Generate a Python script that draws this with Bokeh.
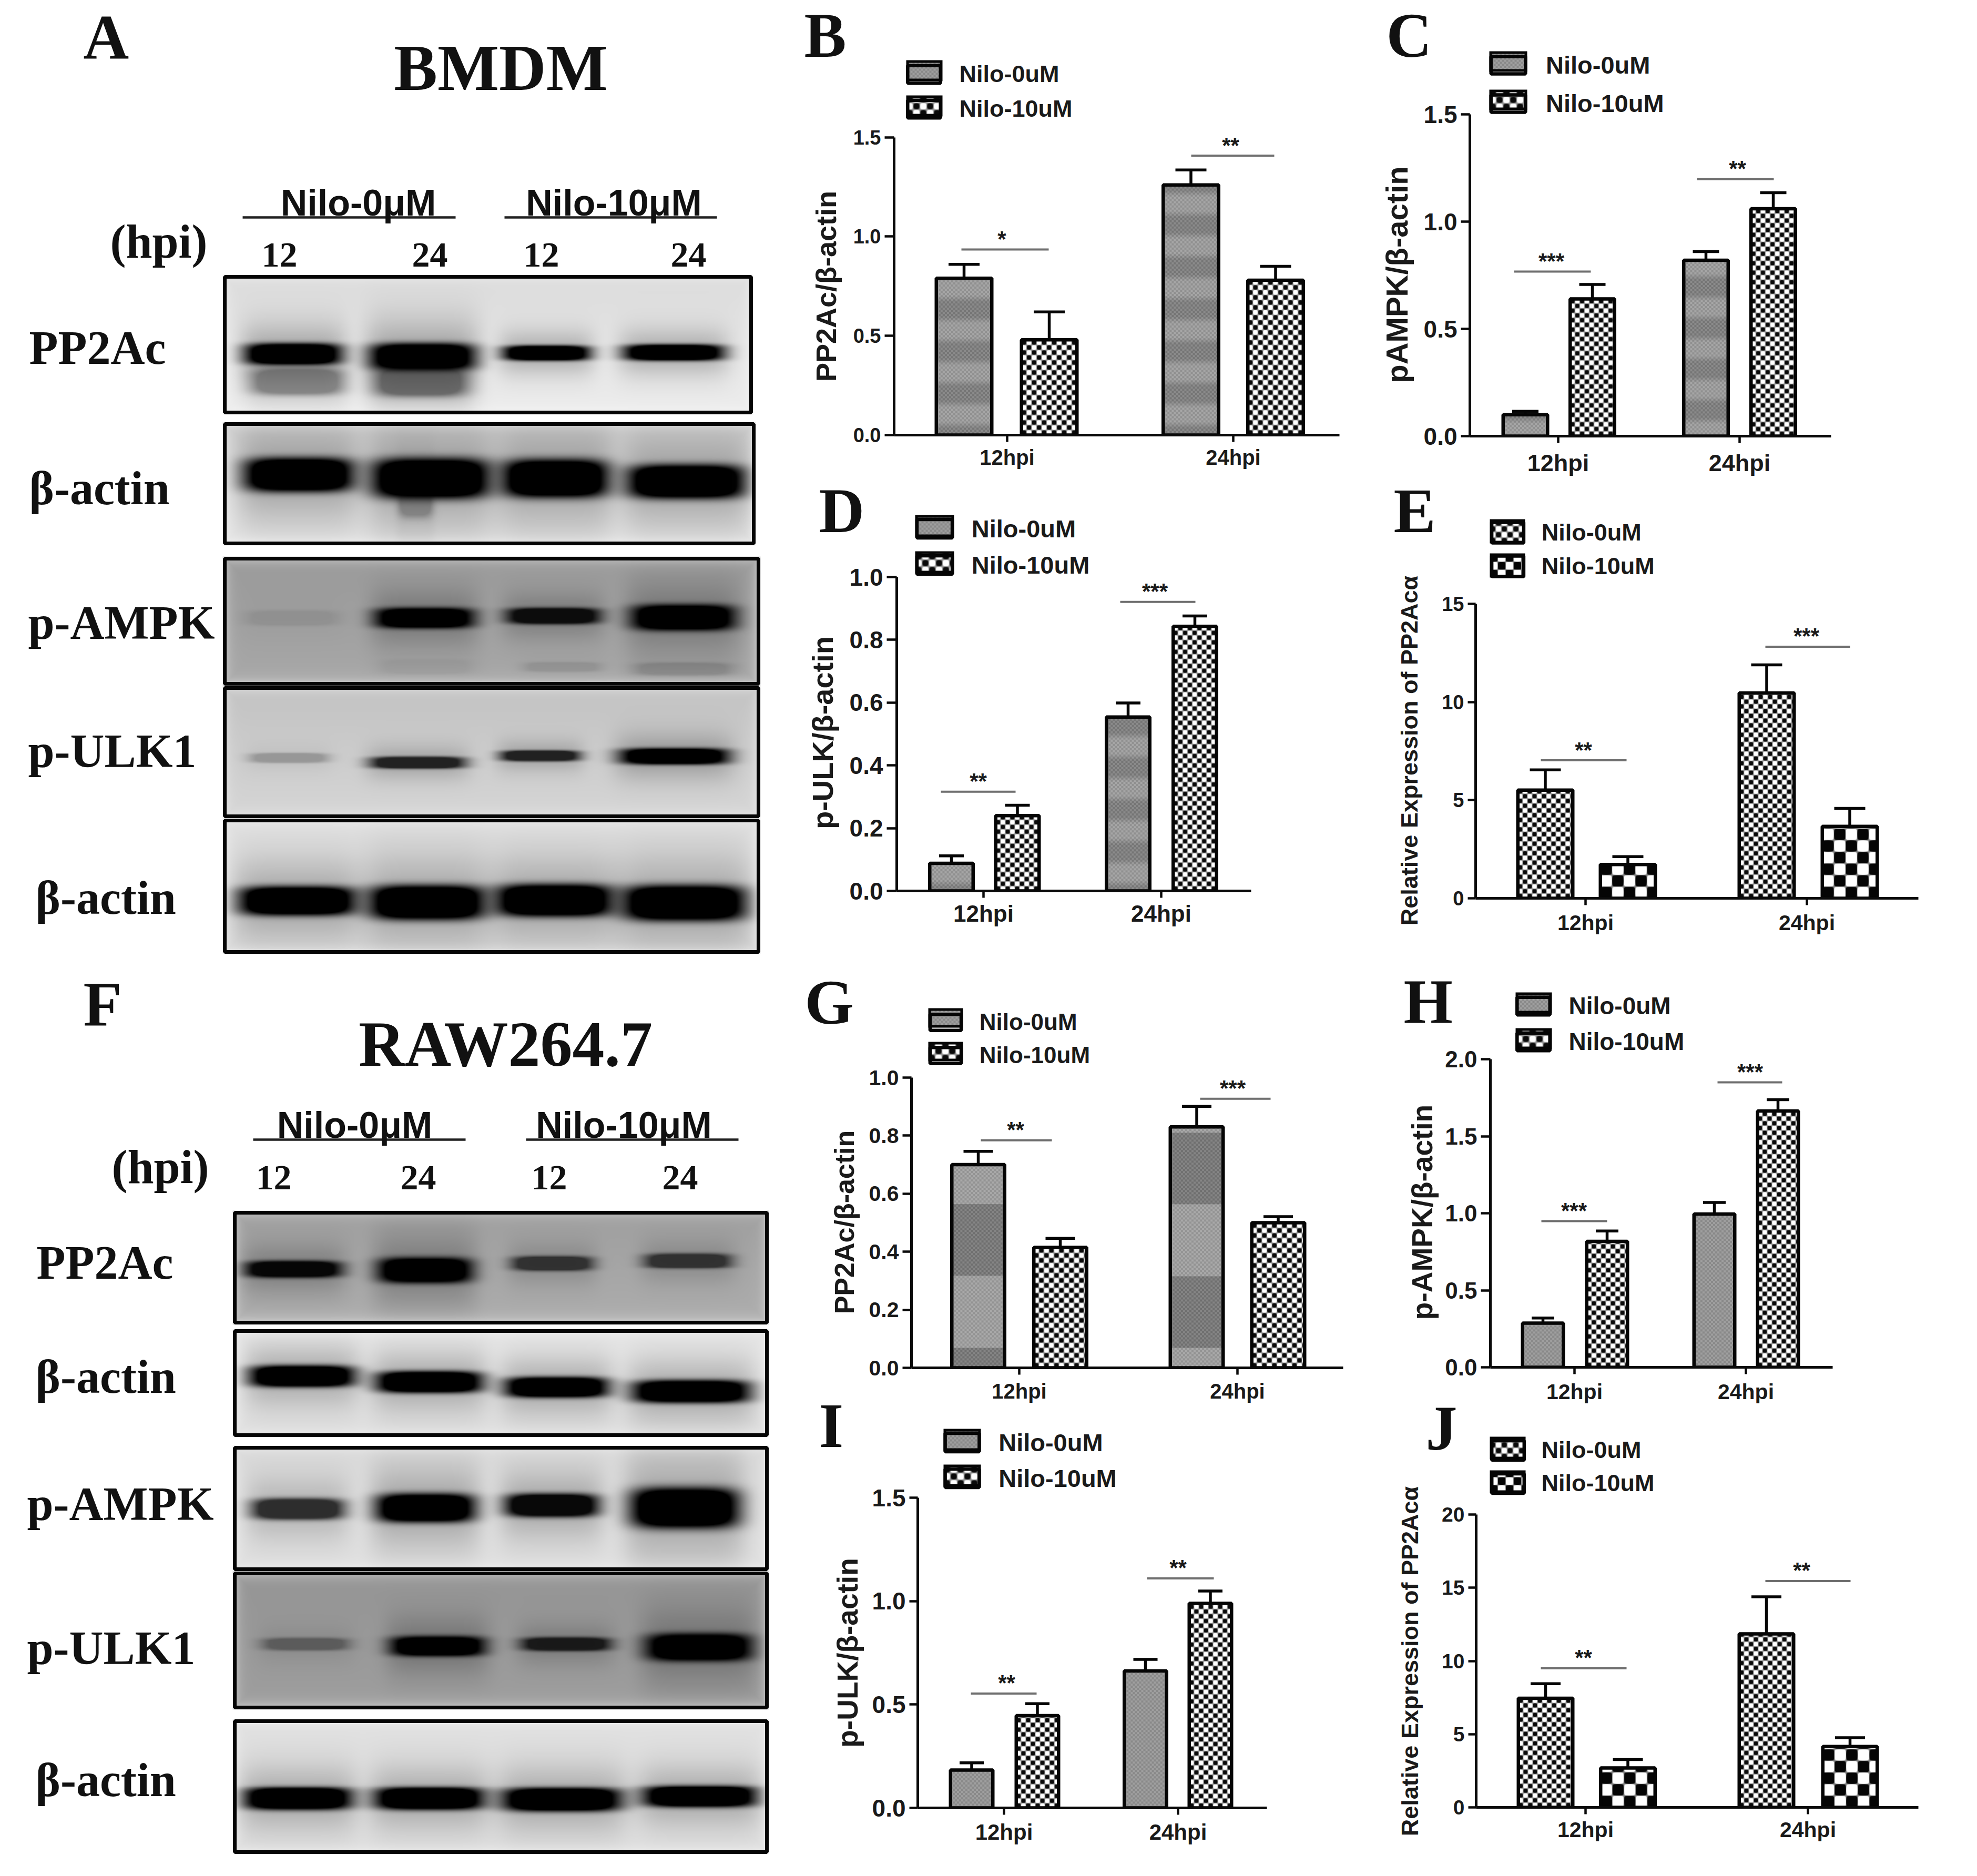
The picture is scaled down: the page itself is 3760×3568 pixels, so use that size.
import math
import numpy as np
from bokeh.plotting import figure
from bokeh.embed import file_html
from bokeh.resources import INLINE
from bokeh.layouts import row, column
from bokeh.core.properties import value
from bokeh.models import (Range1d, FixedTicker, Legend, LegendItem, Whisker, TeeHead,
                          ColumnDataSource)

# ---------------- chart data ----------------
GROUPS = ["12hpi", "24hpi"]
SERIES = ["Nilo-0uM", "Nilo-10uM"]
LABEL_EXPR = "Relative Expression of PP2Acα"

B_CTRL = [0.79, 1.26];  B_CTRL_ERR = [0.07, 0.075]
B_NILO = [0.48, 0.78];  B_NILO_ERR = [0.14, 0.07]
B_SIG = [0.935, 1.407]; B_STARS = ["*", "**"]
C_CTRL = [0.10, 0.82];  C_CTRL_ERR = [0.016, 0.04]
C_NILO = [0.64, 1.06];  C_NILO_ERR = [0.067, 0.075]
C_SIG = [0.767, 1.198]; C_STARS = ["***", "**"]
D_CTRL = [0.088, 0.554]; D_CTRL_ERR = [0.024, 0.045]
D_NILO = [0.24, 0.843];  D_NILO_ERR = [0.033, 0.033]
D_SIG = [0.316, 0.921];  D_STARS = ["**", "***"]
E_CTRL = [5.51, 10.46]; E_CTRL_ERR = [1.03, 1.43]
E_NILO = [1.72, 3.66];  E_NILO_ERR = [0.40, 0.92]
E_SIG = [7.03, 12.82];  E_STARS = ["**", "***"]
G_CTRL = [0.70, 0.83];  G_CTRL_ERR = [0.046, 0.071]
G_NILO = [0.415, 0.50]; G_NILO_ERR = [0.031, 0.021]
G_SIG = [0.784, 0.927]; G_STARS = ["**", "***"]
H_CTRL = [0.287, 0.995]; H_CTRL_ERR = [0.033, 0.075]
H_NILO = [0.817, 1.664]; H_NILO_ERR = [0.068, 0.073]
H_SIG = [0.949, 1.85];   H_STARS = ["***", "***"]
I_CTRL = [0.183, 0.662]; I_CTRL_ERR = [0.035, 0.056]
I_NILO = [0.446, 0.989]; I_NILO_ERR = [0.058, 0.06]
I_SIG = [0.553, 1.11];   I_STARS = ["**", "**"]
J_CTRL = [7.45, 11.85]; J_CTRL_ERR = [1.0, 2.53]
J_NILO = [2.69, 4.16];  J_NILO_ERR = [0.58, 0.60]
J_SIG = [9.5, 15.46];   J_STARS = ["**", "**"]

TICKS_15 = [0.0, 0.5, 1.0, 1.5]
TICKS_10 = [0.0, 0.2, 0.4, 0.6, 0.8, 1.0]
TICKS_20 = [0.0, 0.5, 1.0, 1.5, 2.0]
TICKS_E = [0, 5, 10, 15]
TICKS_J = [0, 5, 10, 15, 20]

# western-blot bands: centre x, centre y, half width, half height, darkness
A_PP2A = [(557, 673, 88, 20, 1), (803, 678, 96, 25, 1), (1040, 671, 79, 14, 1), (1282, 670, 91, 15, 1),
          (565, 725, 85, 25, .35), (800, 725, 85, 28, .45)]
A_ACT1 = [(568, 903, 100, 32, 1), (819, 910, 108, 38, 1), (1056, 910, 97, 36, 1), (1305, 916, 108, 32, 1),
          (790, 950, 32, 34, .25)]
A_AMPK = [(555, 1175, 85, 14, .08), (807, 1175, 90, 19, 1), (1053, 1171, 85, 15, .9), (1300, 1174, 95, 24, 1),
          (1300, 1272, 90, 12, .15), (1070, 1268, 70, 9, .1), (810, 1268, 85, 14, .05)]
A_ULK = [(549, 1441, 72, 9, .22), (794, 1450, 86, 11, .8), (1028, 1437, 72, 10, .8), (1283, 1438, 99, 15, 1)]
A_ACT2 = [(565, 1713, 107, 27, 1), (812, 1716, 106, 32, 1), (1055, 1712, 107, 30, 1), (1302, 1717, 113, 33, 1)]
F_PP2A = [(557, 2414, 88, 16, .95), (808, 2416, 86, 24, 1), (1050, 2403, 74, 14, .65), (1308, 2398, 79, 14, .65)]
F_ACT1 = [(574, 2617, 96, 20, 1), (816, 2628, 97, 20, 1), (1058, 2638, 94, 19, 1), (1314, 2646, 107, 21, 1)]
F_AMPK = [(566, 2870, 84, 20, .75), (809, 2868, 90, 27, 1), (1049, 2863, 85, 22, .95), (1302, 2868, 99, 38, 1)]
F_ULK = [(581, 3127, 79, 12, .35), (832, 3131, 86, 19, 1), (1076, 3127, 81, 13, .8), (1329, 3133, 97, 26, 1)]
F_ACT2 = [(566, 3421, 99, 21, 1), (816, 3421, 100, 21, 1), (1068, 3423, 109, 22, 1), (1331, 3417, 104, 20, 1)]

# ---------------- layout (reference pixels) ----------------
SANS = "Liberation Sans"
SERIF = "Liberation Serif"
INK = "#1a1a1a"
LW = 6.5
BASE_FIX = 0.28     # alphabetic text sits this many em too low in the svg output
PAGE_W, PAGE_H = 3744, 3552
ROWS = [(0, 930), (930, 1792), (1792, 2690), (2690, 3552)]
MID = (1500, 2560)
RIGHT = (2560, 3744)


def band(P, centre, light=155, dark=128, soft=True):
    return ("band", P, centre, light, dark, soft)


PLAIN = ("band", 80, 0, 148, 148, True)


def rgba(gray):
    g = np.clip(gray, 0, 255).astype(np.uint32)
    return (255 << 24) | (g << 16) | (g << 8) | g


def pattern(kind, w, h, y_top):
    """Fill of one bar as an image, top row first, for w x h pixels whose top is at reference y_top."""
    x = np.arange(w) + 0.5
    y = np.arange(h) + 0.5
    X, Yy = np.meshgrid(x, y)
    if kind[0] == "band":
        _, P, c, light, dark, soft = kind
        q = np.cos(2 * np.pi * (Yy + y_top - c) / P)
        t = np.clip(0.5 + 1.1 * q, 0, 1) if soft else (q > 0) * 1.0
        v = light + (dark - light) * t
        v = v + (((X // 4 + Yy // 4) % 2) * 2 - 1) * 11
        return v
    T = kind[1]
    s = np.sin(2 * np.pi * X / T) * np.sin(2 * np.pi * (Yy - h) / T)
    if kind[0] == "dots":
        return 10 + 245 * np.clip(0.58 + 1.5 * s, 0, 1)
    return 5 + 250 * np.clip(0.5 + 5 * s, 0, 1)


PANELS = {
    "B": dict(data=(B_CTRL, B_CTRL_ERR, B_NILO, B_NILO_ERR, B_SIG, B_STARS), ticks=TICKS_15, fmt="{:.1f}",
              ylabel="PP2Ac/β-actin", col=MID, row=0, ax=1700, base=827, top=260.5, xend=2547,
              xt=[1915, 2345], bars=[1833, 1995, 2264.5, 2425.5], bw=112, tee=59,
              sigx=[(1828, 1994), (2265, 2423)], starx=[1905, 2340], letter=(1529, 109), leg_dy=-7,
              sw=(1723, 1792, 121, 161, 188), tx=1825, lf=45, tf=38, xf=40, yf=54, lx=1570, ly=544, xy=867, tick=18,
              fill0=[band(80, 748)] * 2, fill1=[("dots", 19)] * 2, leg=(PLAIN, ("dots", 26))),
    "C": dict(data=(C_CTRL, C_CTRL_ERR, C_NILO, C_NILO_ERR, C_SIG, C_STARS), ticks=TICKS_15, fmt="{:.1f}",
              ylabel="pAMPK/β-actin", col=RIGHT, row=0, ax=2795, base=829, top=217, xend=3482,
              xt=[2963, 3308], bars=[2900.5, 3028, 3244, 3372], bw=91, tee=50,
              sigx=[(2879, 3025), (3227, 3373)], starx=[2950, 3304], letter=(2636, 109), leg_dy=-9,
              sw=(2832, 2904, 106, 145, 179), tx=2940, lf=47, tf=46, xf=45, yf=58, lx=2656, ly=522, xy=877, tick=17,
              fill0=[band(78, 624)] * 2, fill1=[("dots", 18)] * 2, leg=(PLAIN, ("dots", 26))),
    "D": dict(data=(D_CTRL, D_CTRL_ERR, D_NILO, D_NILO_ERR, D_SIG, D_STARS), ticks=TICKS_10, fmt="{:.1f}",
              ylabel="p-ULK/β-actin", col=MID, row=1, ax=1705, base=1694, top=1097, xend=2379,
              xt=[1870, 2208], bars=[1809, 1934.5, 2145, 2272], bw=89, tee=47,
              sigx=[(1789, 1931), (2130, 2273)], starx=[1860, 2196], letter=(1557, 1013), leg_dy=-7,
              sw=(1740, 1814, 986, 1028, 1055), tx=1848, lf=47, tf=46, xf=44, yf=56, lx=1564, ly=1393, xy=1734, tick=19,
              fill0=[band(80, 1620)] * 2, fill1=[("dots", 18)] * 2, leg=(PLAIN, ("dots", 26))),
    "E": dict(data=(E_CTRL, E_CTRL_ERR, E_NILO, E_NILO_ERR, E_SIG, E_STARS), ticks=TICKS_E, fmt="{:d}",
              ylabel=LABEL_EXPR, col=RIGHT, row=1, ax=2806, base=1708, top=1148, xend=3648,
              xt=[3015, 3436], bars=[2938.5, 3095.5, 3359.5, 3517.5], bw=111, tee=59,
              sigx=[(2930, 3093), (3357, 3518)], starx=[3011, 3435], letter=(2650, 1013), leg_dy=-3,
              sw=(2833, 2900, 990, 1036, 1055), tx=2931, lf=45, tf=38, xf=41, yf=45, lx=2680, ly=1427, xy=1752, tick=15,
              fill0=[("dots", 18)] * 2, fill1=[("squares", 44)] * 2, leg=(("dots", 22), ("squares", 30))),
    "G": dict(data=(G_CTRL, G_CTRL_ERR, G_NILO, G_NILO_ERR, G_SIG, G_STARS), ticks=TICKS_10, fmt="{:.1f}",
              ylabel="PP2Ac/β-actin", col=MID, row=2, ax=1733, base=2601, top=2049, xend=2554,
              xt=[1938, 2353], bars=[1860, 2016, 2275.5, 2430.5], bw=107, tee=56,
              sigx=[(1865, 2000), (2282, 2416)], starx=[1931, 2344], letter=(1530, 1948), leg_dy=-5,
              sw=(1765, 1831, 1922, 1959, 1986), tx=1863, lf=44, tf=41, xf=40, yf=52, lx=1605, ly=2324, xy=2643, tick=17,
              fill0=[band(273, 2358, 158, 122, False), band(273, 2495, 158, 122, False)],
              fill1=[("dots", 19)] * 2, leg=(PLAIN, ("dots", 26))),
    "H": dict(data=(H_CTRL, H_CTRL_ERR, H_NILO, H_NILO_ERR, H_SIG, H_STARS), ticks=TICKS_20, fmt="{:.1f}",
              ylabel="p-AMPK/β-actin", col=RIGHT, row=2, ax=2834, base=2600, top=2014, xend=3485,
              xt=[2994, 3320], bars=[2934, 3056, 3260, 3381], bw=84, tee=43,
              sigx=[(2931, 3056), (3266, 3389)], starx=[2993, 3328], letter=(2669, 1947), leg_dy=-7,
              sw=(2882, 2951, 1894, 1934, 1962), tx=2984, lf=46, tf=44, xf=41, yf=55, lx=2704, ly=2305, xy=2644, tick=18,
              fill0=[PLAIN] * 2, fill1=[("dots", 18)] * 2, leg=(PLAIN, ("dots", 26))),
    "I": dict(data=(I_CTRL, I_CTRL_ERR, I_NILO, I_NILO_ERR, I_SIG, I_STARS), ticks=TICKS_15, fmt="{:.1f}",
              ylabel="p-ULK/β-actin", col=MID, row=3, ax=1745, base=3438, top=2848, xend=2409,
              xt=[1909, 2240], bars=[1847.5, 1972.5, 2178, 2301.5], bw=87, tee=46,
              sigx=[(1846, 1971), (2181, 2308)], starx=[1914, 2240], letter=(1557, 2753), leg_dy=-8,
              sw=(1794, 1865, 2725, 2767, 2793), tx=1899, lf=47, tf=46, xf=42, yf=55, lx=1611, ly=3143, xy=3481, tick=16,
              fill0=[PLAIN] * 2, fill1=[("dots", 18)] * 2, leg=(PLAIN, ("dots", 26))),
    "J": dict(data=(J_CTRL, J_CTRL_ERR, J_NILO, J_NILO_ERR, J_SIG, J_STARS), ticks=TICKS_J, fmt="{:d}",
              ylabel=LABEL_EXPR, col=RIGHT, row=3, ax=2807, base=3437, top=2880, xend=3648,
              xt=[3015, 3438], bars=[2939, 3095.5, 3359, 3518], bw=110, tee=57,
              sigx=[(2930, 3093), (3357, 3519)], starx=[3011, 3426], letter=(2711, 2758), leg_dy=-3,
              sw=(2833, 2901, 2735, 2778, 2799), tx=2931, lf=45, tf=39, xf=41, yf=45, lx=2681, ly=3159, xy=3477, tick=15,
              fill0=[("dots", 18)] * 2, fill1=[("squares", 44)] * 2, leg=(("dots", 22), ("squares", 30))),
}


def panel(name, cfg):
    ctrl, ctrl_err, nilo, nilo_err, sig, stars = cfg["data"]
    x0, x1 = cfg["col"]
    y0, y1 = ROWS[cfg["row"]]
    ax, base, top = cfg["ax"], cfg["base"], cfg["top"]
    ymax = cfg["ticks"][-1]
    unit = (base - top) / ymax           # pixels per value unit
    yend = (base - y0) / unit
    to_val = lambda py: (base - py) / unit

    p = figure(width=x1 - x0, height=y1 - y0, output_backend="svg", toolbar_location=None,
               x_range=Range1d(ax, x1), y_range=Range1d(0, yend),
               min_border_left=ax - x0, min_border_right=0, min_border_top=0, min_border_bottom=y1 - base,
               background_fill_color="white", border_fill_color="white", outline_line_color=None,
               frame_align=False)
    p.grid.visible = False

    # significance lines and stars
    p.segment(x0=[s[0] for s in cfg["sigx"]], x1=[s[1] for s in cfg["sigx"]], y0=sig, y1=sig,
              line_color="#6f6f6f", line_width=4)
    p.text(x=cfg["starx"], y=sig, text=stars, text_align="center", text_baseline="middle",
           text_font=value(SANS), text_font_style="bold", text_font_size="42px", text_color=INK,
           y_offset=-20)

    bars = cfg["bars"]
    w = cfg["bw"] - LW
    legend_r = []
    for vals, errs, fills, xs in [(ctrl, ctrl_err, cfg["fill0"], bars[0::2]),
                                  (nilo, nilo_err, cfg["fill1"], bars[1::2])]:
        # bar fills: pattern images whose height comes from the bar's value
        for i in range(2):
            h = int(round(vals[i] * unit))
            img = pattern(fills[i], int(round(w)), h, base - h)[::-1]
            p.image_rgba(image=[rgba(img)], x=xs[i] - w / 2, y=0, dw=w, dh=vals[i])
        r = p.vbar(x=xs, top=vals, bottom=0, width=w, fill_alpha=0, line_color="#050505", line_width=LW)
        legend_r.append(r)
        src = ColumnDataSource(dict(x=xs, lo=vals, hi=[v + e for v, e in zip(vals, errs)]))
        p.add_layout(Whisker(source=src, base="x", lower="lo", upper="hi", line_color="#050505",
                             line_width=LW - 1, lower_head=None,
                             upper_head=TeeHead(size=cfg["tee"], line_color="#050505", line_width=LW - 1)))

    # axes
    xa, ya = p.xaxis[0], p.yaxis[0]
    for a in (xa, ya):
        a.axis_line_color = "#0a0a0a"; a.axis_line_width = 5
        a.major_tick_line_color = "#0a0a0a"; a.major_tick_line_width = 4.5
        a.major_tick_in = 0
        a.minor_tick_line_color = None
        a.major_label_text_font = SANS
        a.major_label_text_font_style = "bold"
        a.major_label_text_color = INK
    ya.bounds = (0, ymax)
    xa.bounds = (ax, cfg["xend"])
    ya.major_tick_out = cfg["tick"]
    xa.major_tick_out = 13
    ya.major_label_standoff = 7
    ya.ticker = FixedTicker(ticks=cfg["ticks"])
    ya.major_label_overrides = {t: cfg["fmt"].format(t) for t in cfg["ticks"]}
    ya.major_label_text_font_size = f'{cfg["tf"]}px'
    xa.ticker = FixedTicker(ticks=cfg["xt"])
    xa.major_label_overrides = dict(zip(cfg["xt"], GROUPS))
    xa.major_label_text_font_size = f'{cfg["xf"]}px'
    xa.major_label_standoff = int(cfg["xy"] - base - 13 - cfg["xf"] * 0.5)

    # legend: pattern images in the swatches, the legend's own glyphs outline them
    sl, sr, st1, sb1, st2 = cfg["sw"]
    sh = sb1 - st1
    for kind, st in zip(cfg["leg"], (st1, st2)):
        img = pattern(kind, sr - sl, sh, st)
        img[:5, :] = 5; img[-5:, :] = 5; img[:, :5] = 5; img[:, -5:] = 5
        p.image_rgba(image=[rgba(img[::-1])], x=sl, y=to_val(st + cfg["leg_dy"] + sh), dw=sr - sl, dh=sh / unit)
    gw = ((sr - sl) - LW) / 0.8
    gh = (sh - LW) / 0.8
    leg_left = sl + LW / 2 - 0.1 * gw
    leg_top = st1 + LW / 2 - 0.1 * gh
    pitch = st2 - st1
    item_h = max(gh, cfg["lf"] * 1.17)
    leg_h = 2 * item_h + (pitch - item_h)
    legend = Legend(items=[LegendItem(label=SERIES[i], renderers=[legend_r[i]]) for i in range(2)],
                    location=(leg_left - ax, base - (leg_top + cfg["leg_dy"] + leg_h)), orientation="vertical",
                    glyph_width=int(round(gw)), glyph_height=int(round(gh)), label_height=int(round(gh)),
                    spacing=int(round(pitch - item_h)), padding=0, margin=0,
                    label_standoff=int(round(cfg["tx"] - leg_left - gw)),
                    label_text_font=SANS, label_text_font_style="bold",
                    label_text_font_size=f'{cfg["lf"]}px', label_text_color=INK,
                    background_fill_alpha=0, border_line_color=None)
    p.add_layout(legend, "center")
    return p


# ---------------- blot column ----------------
def Y(y):
    return PAGE_H - y


BLOTS = [
    (423, 1432, 522, 788, .86, .93, A_PP2A), (423, 1437, 802, 1037, .80, .90, A_ACT1),
    (423, 1446, 1058, 1304, .60, .66, A_AMPK), (423, 1446, 1304, 1556, .76, .84, A_ULK),
    (423, 1446, 1556, 1814, .88, .86, A_ACT2),
    (442, 1462, 2302, 2519, .62, .68, F_PP2A), (442, 1462, 2527, 2733, .90, .88, F_ACT1),
    (442, 1462, 2749, 2988, .85, .88, F_AMPK), (442, 1462, 2988, 3251, .58, .62, F_ULK),
    (442, 1462, 3269, 3526, .88, .88, F_ACT2),
]


def render_blot(x0, x1, y0, y1, bg_top, bg_bot, bands, step=2):
    xs = np.arange(x0, x1, step) + step / 2
    ys = np.arange(y0, y1, step) + step / 2
    X, Yy = np.meshgrid(xs, ys)
    v = bg_top + (bg_bot - bg_top) * (Yy - y0) / (y1 - y0)
    for cx, cy, hw, hh, d in bands:
        dx, dy = (X - cx) / hw, (Yy - cy) / hh
        core = np.clip(1.8 * np.exp(-(dx ** 4 + dy ** 4)), 0, 1)
        halo = 0.24 * d * np.exp(-((dx / 1.15) ** 6 + (dy / 3.0) ** 2))
        v = v * (1 - d * core) * (1 - halo)
    e = np.minimum.reduce([X - x0, x1 - X, Yy - y0, y1 - Yy])
    v = v + (1 - v) * 0.65 * np.exp(-e / 9.0)
    return rgba(v * 255)[::-1]


left = figure(width=1500, height=PAGE_H, output_backend="svg", toolbar_location=None,
              x_range=Range1d(0, 1500), y_range=Range1d(0, PAGE_H),
              x_axis_location=None, y_axis_location=None,
              min_border=0, outline_line_color=None, frame_align=False,
              background_fill_color="white", border_fill_color="white")
left.grid.visible = False
for x0, x1, y0, y1, bt, bb, bands in BLOTS:
    left.image_rgba(image=[render_blot(x0, x1, y0, y1, bt, bb, bands)], x=x0, y=Y(y1), dw=x1 - x0, dh=y1 - y0)
left.quad(left=[b[0] + 4 for b in BLOTS], right=[b[1] - 4 for b in BLOTS],
          top=[Y(b[2] + 4) for b in BLOTS], bottom=[Y(b[3] - 4) for b in BLOTS],
          fill_color=None, line_color="#050505", line_width=7)

# underlines below the treatment headings
UL = [(461, 866, 413), (959, 1363, 413), (481, 885, 2167), (1000, 1404, 2167)]
left.segment(x0=[u[0] for u in UL], x1=[u[1] for u in UL], y0=[Y(u[2]) for u in UL], y1=[Y(u[2]) for u in UL],
             line_color="#222222", line_width=4.5)

# transparent sheet over the whole page: panel letters and the y-axis titles
sheet = figure(width=PAGE_W, height=PAGE_H, output_backend="svg", toolbar_location=None,
               x_range=Range1d(0, PAGE_W), y_range=Range1d(0, PAGE_H),
               x_axis_location=None, y_axis_location=None,
               min_border=0, outline_line_color=None, frame_align=False,
               background_fill_color=None, border_fill_color=None,
               margin=(-PAGE_H, 0, 0, 0))
sheet.grid.visible = False


def put(fig, x, base, txt, size, font=SERIF, align="left"):
    fig.text(x=[x], y=[Y(base - BASE_FIX * size)], text=[txt], text_font=value(font), text_font_style="bold",
             text_font_size=f"{size}px", text_color="#111111", text_align=align, text_baseline="alphabetic")


put(left, 158, 104, "A", 120); put(left, 158, 1944, "F", 120)
put(left, 952, 164, "BMDM", 124, align="center"); put(left, 961, 2019, "RAW264.7", 122, align="center")
put(left, 681, 405, "Nilo-0μM", 70, SANS, "center"); put(left, 1167, 405, "Nilo-10μM", 70, SANS, "center")
put(left, 674, 2159, "Nilo-0μM", 70, SANS, "center"); put(left, 1186, 2159, "Nilo-10μM", 70, SANS, "center")
put(left, 209, 484, "(hpi)", 90); put(left, 212, 2244, "(hpi)", 90)
for cx, t in [(531, "12"), (817, "24"), (1029, "12"), (1309, "24")]:
    put(left, cx, 504, t, 68, align="center")
for cx, t in [(520, "12"), (795, "24"), (1044, "12"), (1293, "24")]:
    put(left, cx, 2259, t, 68, align="center")
for x, b, t in [(55, 686, "PP2Ac"), (55, 953, "β-actin"), (53, 1209, "p-AMPK"), (53, 1453, "p-ULK1"), (67, 1732, "β-actin"),
                (69, 2426, "PP2Ac"), (67, 2643, "β-actin"), (51, 2885, "p-AMPK"), (51, 3159, "p-ULK1"), (67, 3410, "β-actin")]:
    put(left, x, b, t, 90)

for name, cfg in PANELS.items():
    lx, lb = cfg["letter"]
    put(sheet, lx, lb - 8, name, 120)
    sheet.text(x=[cfg["lx"]], y=[Y(cfg["ly"])], text=[cfg["ylabel"]], angle=math.pi / 2,
               text_font=value(SANS), text_font_style="bold", text_font_size=f'{cfg["yf"]}px',
               text_color=INK, text_align="center", text_baseline="middle")

figs = {k: panel(k, v) for k, v in PANELS.items()}
page = column(row(left, column(figs["B"], figs["D"], figs["G"], figs["I"]),
                  column(figs["C"], figs["E"], figs["H"], figs["J"])),
              sheet)
open("out.html", "w").write(file_html(page, INLINE))
